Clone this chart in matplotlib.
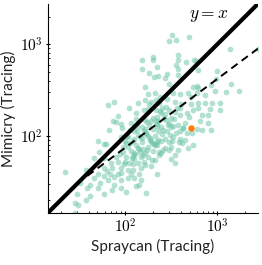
import numpy as np
import matplotlib.pyplot as plt
from matplotlib.ticker import FuncFormatter

# log10 of tracing counts
spray_log = [2.51, 2.48, 2.55, 2.69, 2.18, 2.30, 2.30, 2.57, 2.57, 2.66, 2.18, 2.34, 2.55, 2.57,
             2.26, 2.31, 2.36, 2.45, 2.43, 2.57, 2.22, 2.47, 2.75, 2.74,
             3.14, 3.44, 2.77, 3.00, 2.79, 2.99, 3.15, 2.93, 2.78, 2.79,
             1.81, 1.88, 1.92, 1.87, 1.90, 1.95, 1.82, 1.97, 1.71, 1.77, 1.79, 1.72, 1.95,
             2.25, 2.32, 2.52, 2.59, 2.68, 2.71, 2.14, 2.21, 2.28, 2.37, 2.54, 2.61, 2.71,
             2.04, 2.12, 2.20, 2.25, 2.33, 2.34, 2.39, 2.47, 2.54, 2.60, 2.67, 2.74,
             2.06, 2.21, 2.28, 2.34, 2.39, 2.47, 2.50, 2.57, 2.65, 2.59, 2.67, 2.72,
             2.03, 2.14, 2.23, 2.32, 2.36, 2.43, 2.52, 2.59, 2.65,
             2.03, 2.14, 2.25, 2.34, 2.43, 2.50, 2.57, 2.68, 2.74, 2.10, 2.21, 2.39, 2.54,
             2.78, 2.87, 2.97, 3.09, 3.23, 2.79, 2.87, 2.94, 3.03, 2.79, 2.92, 3.03,
             2.83, 2.90, 2.81, 2.90, 2.78, 2.83, 2.93,
             1.66, 1.77, 1.90, 1.35, 1.57, 1.77, 1.86, 1.95, 1.70, 1.77, 1.84, 1.92,
             1.66, 1.81, 1.95, 1.51, 1.62, 1.73, 1.88, 1.95, 1.59, 1.70, 1.86, 1.77,
             1.48, 1.57, 1.62, 1.46, 1.49, 1.46,
             2.01, 2.08, 2.17, 2.25, 2.32, 2.50, 2.54, 2.04, 2.14, 2.21, 2.28, 2.03, 2.08,
             2.17, 2.06, 2.15, 2.34, 2.03, 2.10, 2.17, 2.12, 2.15, 2.01, 2.23,
             2.00, 2.05, 2.10, 2.12, 2.18, 2.20, 2.25, 2.28, 2.30, 2.36, 2.40, 2.42, 2.45,
             2.48, 2.30, 2.16, 2.06, 1.98, 2.00, 2.10, 2.20, 2.35, 2.26, 2.18, 2.10, 1.98,
             2.40, 2.50, 2.55, 2.62, 2.30, 2.12, 2.60, 2.38, 2.45, 1.92, 1.85, 1.80, 1.88, 1.95,
             2.08, 2.13, 2.19, 2.24, 2.27, 2.31, 2.35, 2.39, 2.44, 2.49, 2.53, 2.58, 2.63,
             2.11, 2.16, 2.22, 2.29, 2.33, 2.37, 2.41, 2.46, 2.51, 2.56, 2.05, 2.09, 2.15,
             2.19, 2.23, 2.27, 2.32, 2.37, 2.43, 2.48, 2.02, 2.07, 2.13, 2.18, 2.24, 2.29,
             2.36, 2.41, 2.63, 2.69, 2.52, 2.44, 1.99, 1.94, 2.01, 2.26, 2.33, 2.38]
mimic_log = [3.10, 3.04, 3.05, 3.08, 2.83, 2.86, 2.83, 2.88, 2.83, 2.81, 2.73, 2.75, 2.77, 2.73,
             2.69, 2.64, 2.65, 2.68, 2.63, 2.66, 2.53, 2.57, 2.83, 2.53,
             2.95, 2.95, 2.82, 2.71, 2.72, 2.62, 2.57, 2.55, 2.54, 2.52,
             2.34, 2.37, 2.22, 2.16, 2.15, 2.13, 2.07, 2.09, 1.95, 1.91, 1.91, 1.82, 1.99,
             2.46, 2.47, 2.47, 2.46, 2.47, 2.42, 2.36, 2.39, 2.37, 2.36, 2.37, 2.35, 2.35,
             2.30, 2.25, 2.28, 2.29, 2.28, 2.21, 2.25, 2.28, 2.26, 2.23, 2.25, 2.28,
             2.14, 2.17, 2.16, 2.13, 2.10, 2.14, 2.10, 2.12, 2.14, 2.05, 2.03, 2.03,
             1.99, 2.01, 2.03, 2.00, 1.96, 1.97, 1.99, 1.97, 1.96,
             1.88, 1.87, 1.88, 1.90, 1.87, 1.88, 1.85, 1.87, 1.90, 1.81, 1.81, 1.81, 1.79,
             2.47, 2.45, 2.49, 2.48, 2.49, 2.36, 2.36, 2.36, 2.36, 2.30, 2.29, 2.28,
             2.23, 2.23, 2.16, 2.14, 2.08, 2.06, 2.07,
             1.76, 1.76, 1.77, 1.61, 1.63, 1.65, 1.65, 1.65, 1.58, 1.56, 1.58, 1.59,
             1.54, 1.52, 1.52, 1.49, 1.47, 1.49, 1.47, 1.43, 1.43, 1.43, 1.41, 1.37,
             1.37, 1.30, 1.34, 1.27, 1.25, 1.16,
             1.77, 1.78, 1.77, 1.77, 1.74, 1.75, 1.71, 1.70, 1.70, 1.68, 1.67, 1.63, 1.63,
             1.65, 1.58, 1.59, 1.58, 1.54, 1.54, 1.52, 1.45, 1.47, 1.39, 1.38,
             1.95, 1.92, 1.97, 1.90, 1.93, 2.05, 2.00, 1.95, 2.08, 2.05, 2.02, 2.20, 2.05,
             1.93, 1.84, 1.83, 1.84, 1.82, 1.72, 1.75, 1.72, 1.93, 2.12, 2.10, 2.05, 1.88,
             2.30, 2.20, 2.03, 1.92, 2.20, 2.18, 2.30, 2.42, 2.40, 1.72, 1.70, 1.62, 1.55, 1.60,
             1.94, 2.07, 1.86, 2.15, 1.98, 1.91, 2.11, 1.94, 2.17, 2.01, 2.19, 1.93, 2.09,
             1.80, 1.99, 2.08, 1.92, 2.16, 1.83, 2.06, 2.12, 1.95, 2.31, 2.06, 1.69, 1.86,
             1.79, 2.02, 1.96, 1.90, 1.79, 2.24, 1.85, 2.00, 1.76, 2.12, 1.98, 1.85, 1.74,
             2.16, 1.85, 2.09, 2.21, 2.11, 2.32, 1.69, 1.80, 1.92, 2.35, 2.39, 2.27]

highlight_x = [518]
highlight_y = [121]

fit_coef = 2.355
fit_exp = 0.75

lims = [14.5, 2750]

spray = 10 ** np.array(spray_log)
mimic = 10 ** np.array(mimic_log)

plt.rcParams['mathtext.fontset'] = 'cm'
fig = plt.figure(figsize=(2.62, 2.65), dpi=100)
ax = fig.add_axes([0.183, 0.197, 0.801, 0.788])

ax.scatter(spray, mimic, s=17, color='#66c2a5', alpha=0.5, linewidths=0, zorder=2)
ax.scatter(highlight_x, highlight_y, s=22, color='#ff7f0e', linewidths=0, zorder=4)

ax.plot(lims, lims, color='black', lw=3, solid_capstyle='butt', zorder=3)
fx = np.array([30.0, lims[1]])
ax.plot(fx, fit_coef * fx ** fit_exp, color='black', lw=1.4, ls=(0, (4, 2.6)), zorder=3)

ax.text(0.86, 0.99, '$y = x$', transform=ax.transAxes, ha='right', va='top', fontsize=12.5)

ax.set_xscale('log')
ax.set_yscale('log')
ax.set_xlim(lims)
ax.set_ylim(lims)
fmt = FuncFormatter(lambda v, p: r'$10^{%d}$' % round(np.log10(v)))
ax.xaxis.set_major_formatter(fmt)
ax.yaxis.set_major_formatter(fmt)
for s in ['top', 'right']:
    ax.spines[s].set_visible(False)
ax.tick_params(which='major', direction='inout', length=3, width=0.8, labelsize=11, pad=2)
ax.tick_params(which='minor', direction='in', length=1.5, width=0.6)
ax.set_xlabel('Spraycan (Tracing)', fontsize=11, family='Lato', color='#222222', labelpad=2)
ax.set_ylabel('Mimicry (Tracing)', fontsize=11, family='Lato', color='#222222', labelpad=3)

fig.savefig('out.png', dpi=100)
